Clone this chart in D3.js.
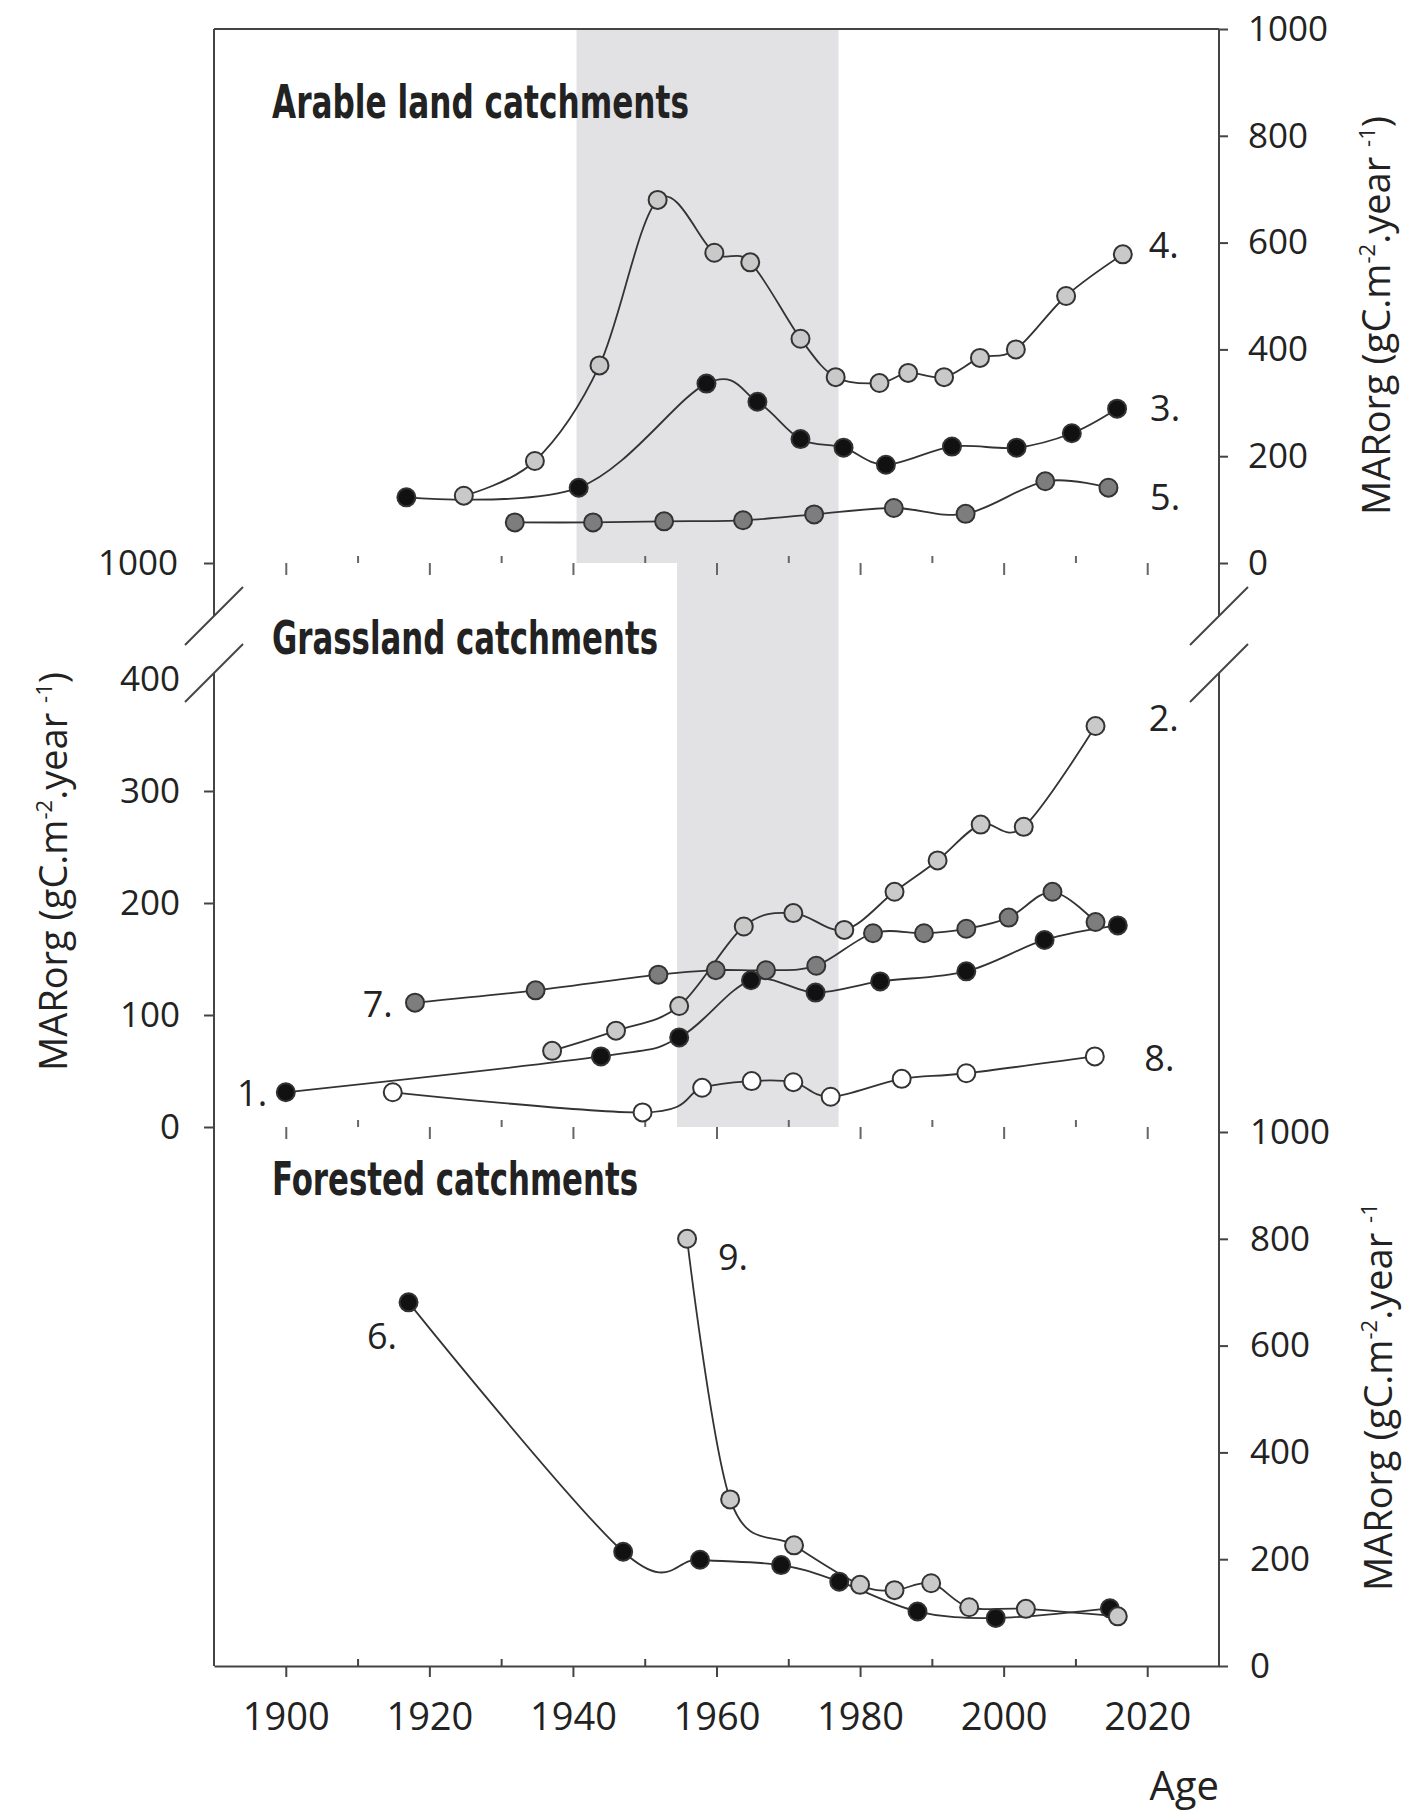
<!DOCTYPE html>
<html>
<head>
<meta charset="utf-8">
<script src="https://cdn.jsdelivr.net/npm/d3@7"></script>
<style>
body { margin: 0; background: #fff; }
svg text { font-family: "Open Sans", "Noto Sans", sans-serif; fill: #222; }
</style>
</head>
<body>
<div class="chartDiv"></div>
<script>

// ----------------------- data -----------------------//

// x ticks
const majorYears = [1900, 1920, 1940, 1960, 1980, 2000, 2020];
const minorYears = [1910, 1930, 1950, 1970, 1990, 2010];

// y ticks
const arableTicks = [0, 200, 400, 600, 800, 1000];
const grassTicks = [0, 100, 200, 300, 400];
const forestTicks = [0, 200, 400, 600, 800, 1000];

// arable land catchments
const s4Years = [1924.8, 1934.7, 1943.7, 1951.8, 1959.7, 1964.7, 1971.7, 1976.6, 1982.7, 1986.7, 1991.7, 1996.7, 2001.7, 2008.7, 2016.6];
const s4Vals  = [126, 191, 370, 680, 581, 563, 420, 348, 337, 356, 348, 384, 400, 500, 578];
const s3Years = [1916.8, 1940.8, 1958.6, 1965.7, 1971.7, 1977.7, 1983.6, 1992.8, 2001.8, 2009.5, 2015.8];
const s3Vals  = [123, 141, 336, 302, 232, 216, 184, 218, 216, 243, 289];
const s5Years = [1931.9, 1942.8, 1952.7, 1963.7, 1973.6, 1984.7, 1994.7, 2005.8, 2014.6];
const s5Vals  = [76, 76, 78, 80, 91, 103, 92, 153, 141];

// grassland catchments
const s1Years = [1900, 1943.9, 1954.8, 1964.8, 1973.8, 1982.8, 1994.8, 2005.7, 2015.9];
const s1Vals  = [31, 63, 80, 131, 120, 130, 139, 167, 180];
const s8Years = [1914.9, 1949.7, 1958, 1964.9, 1970.7, 1975.9, 1985.8, 1994.8, 2012.7];
const s8Vals  = [31, 13, 35, 41, 40, 27, 43, 48, 63];
const s2Years = [1937.1, 1946, 1954.8, 1963.8, 1970.7, 1977.8, 1984.8, 1990.8, 1996.8, 2002.8, 2012.8];
const s2Vals  = [68, 86, 108, 179, 191, 176, 210, 238, 270, 268, 358];
const s7Years = [1918, 1934.8, 1951.9, 1959.9, 1966.9, 1973.9, 1981.8, 1988.9, 1994.8, 2000.7, 2006.8, 2012.8];
const s7Vals  = [111, 122, 136, 140, 140, 144, 173, 173, 177, 187, 210, 183];

// forested catchments
const s6Years = [1917.1, 1947, 1957.7, 1969, 1977.1, 1988, 1998.9, 2014.8];
const s6Vals  = [681, 214, 199, 189, 158, 102, 90, 108];
const s9Years = [1955.9, 1961.9, 1970.8, 1980, 1984.8, 1989.9, 1995.2, 2003.1, 2015.9];
const s9Vals  = [800, 312, 226, 152, 142, 155, 110, 107, 93];

// series number labels: [text, panel, year, value, anchor]
const seriesLabels = [
  ["4.", "arable", 2020.2, 595, "start"],
  ["3.", "arable", 2020.4, 290, "start"],
  ["5.", "arable", 2020.4, 123, "start"],
  ["2.", "grass", 2020.2, 365, "start"],
  ["8.", "grass", 2019.6, 62, "start"],
  ["7.", "grass", 1914.9, 110, "end"],
  ["1.", "grass", 1897.4, 30, "end"],
  ["6.", "forest", 1915.5, 618, "end"],
  ["9.", "forest", 1960.2, 765, "start"]
];

// shaded periods
const bandStart = [1940.5, 1954.5];
const bandEnd = [1977, 1977];

// -----------------------Initial setup--------------------------------//

let width = 1407, height = 1812;

let x = d3.scaleLinear().domain([1890, 2030]).range([214, 1219]);
let yArable = d3.scaleLinear().domain([0, 1000]).range([563, 29]);
let yGrass = d3.scaleLinear().domain([0, 400]).range([1127, 679]);
let yForest = d3.scaleLinear().domain([0, 1000]).range([1666, 1132]);
let scales = {arable: yArable, grass: yGrass, forest: yForest};

let svg = d3.select(".chartDiv").append("svg")
    .attr("width", width)
    .attr("height", height)
    .style("background-color", "white");

const axisColor = "#444";
const intFormat = d3.format("d");

// grey bands
svg.append("rect")
    .attr("x", x(bandStart[0]))
    .attr("y", yArable(1000))
    .attr("width", x(bandEnd[0]) - x(bandStart[0]))
    .attr("height", yArable(0) - yArable(1000))
    .attr("fill", "#e2e2e5");

svg.append("rect")
    .attr("x", x(bandStart[1]))
    .attr("y", yArable(0))
    .attr("width", x(bandEnd[1]) - x(bandStart[1]))
    .attr("height", yGrass(0) - yArable(0))
    .attr("fill", "#e2e2e5");

// frame lines (with the breaks)
let breakTop = yArable(0) + 53, breakBot = yGrass(400) - 6;
[x(1890), x(2030)].forEach(function(xx) {
  svg.append("line").attr("x1", xx).attr("x2", xx)
      .attr("y1", yArable(1000)).attr("y2", breakTop)
      .attr("stroke", axisColor).attr("stroke-width", 2);
  svg.append("line").attr("x1", xx).attr("x2", xx)
      .attr("y1", breakBot).attr("y2", yForest(0))
      .attr("stroke", axisColor).attr("stroke-width", 2);
  // break slashes
  [breakTop, breakBot].forEach(function(yy) {
    svg.append("line")
        .attr("x1", xx - 29).attr("y1", yy + 29)
        .attr("x2", xx + 29).attr("y2", yy - 29)
        .attr("stroke", axisColor).attr("stroke-width", 2);
  });
});

svg.append("line")
    .attr("x1", x(1890)).attr("x2", x(2030))
    .attr("y1", yArable(1000)).attr("y2", yArable(1000))
    .attr("stroke", axisColor).attr("stroke-width", 2);

// bottom x axis
let xAxisG = svg.append("g")
    .attr("transform", "translate(0," + yForest(0) + ")")
    .call(d3.axisBottom(x).tickValues(majorYears).tickSize(11).tickPadding(26).tickSizeOuter(0).tickFormat(intFormat));
xAxisG.select(".domain").attr("stroke", axisColor).attr("stroke-width", 2);
xAxisG.selectAll(".tick line").attr("stroke", axisColor).attr("stroke-width", 2);
xAxisG.selectAll("text").style("font-size", "38px").attr("fill", "#222");

let xMinorG = svg.append("g")
    .attr("transform", "translate(0," + yForest(0) + ")")
    .call(d3.axisBottom(x).tickValues(minorYears).tickSize(-7).tickFormat(""));
xMinorG.select(".domain").remove();
xMinorG.selectAll(".tick line").attr("stroke", axisColor).attr("stroke-width", 2);

// decade marks at panel bottoms
[yArable(0), yGrass(0)].forEach(function(yy) {
  let g1 = svg.append("g").attr("transform", "translate(0," + yy + ")")
      .call(d3.axisBottom(x).tickValues(majorYears).tickSize(12).tickFormat(""));
  g1.select(".domain").remove();
  g1.selectAll(".tick line").attr("stroke", "#666").attr("stroke-width", 2);
  let g2 = svg.append("g").attr("transform", "translate(0," + yy + ")")
      .call(d3.axisBottom(x).tickValues(minorYears).tickSize(-7).tickFormat(""));
  g2.select(".domain").remove();
  g2.selectAll(".tick line").attr("stroke", "#666").attr("stroke-width", 2);
});

// left axis (grassland)
let leftG = svg.append("g")
    .attr("transform", "translate(" + x(1890) + ",0)")
    .call(d3.axisLeft(yGrass).tickValues(grassTicks).tickSize(10).tickPadding(24).tickFormat(intFormat));
leftG.select(".domain").remove();
leftG.selectAll(".tick line").attr("stroke", axisColor).attr("stroke-width", 2)
    .attr("opacity", d => d === 400 ? 0 : 1);
leftG.selectAll("text").style("font-size", "35px").attr("fill", "#222");

let leftTopG = svg.append("g")
    .attr("transform", "translate(" + x(1890) + ",0)")
    .call(d3.axisLeft(yArable).tickValues([0]).tickSize(10).tickPadding(26).tickFormat(() => "1000"));
leftTopG.select(".domain").remove();
leftTopG.selectAll(".tick line").attr("stroke", axisColor).attr("stroke-width", 2);
leftTopG.selectAll("text").style("font-size", "35px").attr("fill", "#222");

// right axes
let rightTopG = svg.append("g")
    .attr("transform", "translate(" + x(2030) + ",0)")
    .call(d3.axisRight(yArable).tickValues(arableTicks).tickSize(9).tickPadding(20).tickFormat(intFormat));
rightTopG.select(".domain").remove();
rightTopG.selectAll(".tick line").attr("stroke", axisColor).attr("stroke-width", 2);
rightTopG.selectAll("text").style("font-size", "35px").attr("fill", "#222");

let rightBotG = svg.append("g")
    .attr("transform", "translate(" + x(2030) + ",0)")
    .call(d3.axisRight(yForest).tickValues(forestTicks).tickSize(9).tickPadding(22).tickFormat(intFormat));
rightBotG.select(".domain").remove();
rightBotG.selectAll(".tick line").attr("stroke", axisColor).attr("stroke-width", 2);
rightBotG.selectAll("text").style("font-size", "35px").attr("fill", "#222");

// ----------------------- series --------------------------------//

let series = [
  {years: s4Years, vals: s4Vals, panel: "arable", fill: "#c9c9c9"},
  {years: s3Years, vals: s3Vals, panel: "arable", fill: "#111"},
  {years: s5Years, vals: s5Vals, panel: "arable", fill: "#7d7d7d"},
  {years: s1Years, vals: s1Vals, panel: "grass", fill: "#111"},
  {years: s8Years, vals: s8Vals, panel: "grass", fill: "#ffffff"},
  {years: s2Years, vals: s2Vals, panel: "grass", fill: "#c9c9c9"},
  {years: s7Years, vals: s7Vals, panel: "grass", fill: "#7d7d7d"},
  {years: s6Years, vals: s6Vals, panel: "forest", fill: "#111"},
  {years: s9Years, vals: s9Vals, panel: "forest", fill: "#c9c9c9"}
];

series.forEach(function(s) {
  let yS = scales[s.panel];
  let pts = s.years.map((yr, i) => [yr, s.vals[i]]);
  let line = d3.line()
      .x(d => x(d[0]))
      .y(d => yS(d[1]))
      .curve(d3.curveCatmullRom.alpha(0));
  svg.append("path")
      .attr("d", line(pts))
      .attr("fill", "none")
      .attr("stroke", "#333")
      .attr("stroke-width", 1.8);
});

series.forEach(function(s) {
  let yS = scales[s.panel];
  let pts = s.years.map((yr, i) => [yr, s.vals[i]]);
  svg.append("g").selectAll("circle")
      .data(pts)
      .enter().append("circle")
      .attr("cx", d => x(d[0]))
      .attr("cy", d => yS(d[1]))
      .attr("r", 9)
      .attr("fill", s.fill)
      .attr("stroke", "#333")
      .attr("stroke-width", 2);
});

// series numbers
seriesLabels.forEach(function(l) {
  svg.append("text")
      .attr("x", x(l[2]))
      .attr("y", scales[l[1]](l[3]))
      .attr("dy", "0.36em")
      .attr("text-anchor", l[4])
      .style("font-size", "36px")
      .text(l[0]);
});

// ----------------------- titles --------------------------------//

let titleFont = '"Liberation Sans Narrow", "DejaVu Sans Condensed", "Roboto", sans-serif';
[["Arable land catchments", 118, 417], ["Grassland catchments", 654, 386], ["Forested catchments", 1195, 366]].forEach(function(t) {
  svg.append("text")
      .attr("x", 272)
      .attr("y", t[1])
      .attr("textLength", t[2])
      .attr("lengthAdjust", "spacingAndGlyphs")
      .style("font-family", titleFont)
      .style("font-weight", "bold")
      .style("font-size", "46px")
      .attr("fill", "#1a1a1a")
      .text(t[0]);
});

function unitTitle(tx, ty, closing) {
  let t = svg.append("text")
      .attr("transform", "translate(" + tx + "," + ty + ") rotate(-90)")
      .style("font-size", "38px");
  t.append("tspan").text("MARorg (gC.m");
  t.append("tspan").attr("dy", -15).style("font-size", "22px").text("-2");
  t.append("tspan").attr("dy", 15).text(".year ");
  t.append("tspan").attr("dy", -15).style("font-size", "22px").text("-1");
  if (closing) t.append("tspan").attr("dy", 15).text(")");
  return t;
}

unitTitle(67, 1071, true);
unitTitle(1390, 515, true);
unitTitle(1392, 1591, false);

svg.append("text")
    .attr("x", x(2030))
    .attr("y", 1800)
    .attr("text-anchor", "end")
    .style("font-size", "40px")
    .text("Age");

</script>
</body>
</html>
